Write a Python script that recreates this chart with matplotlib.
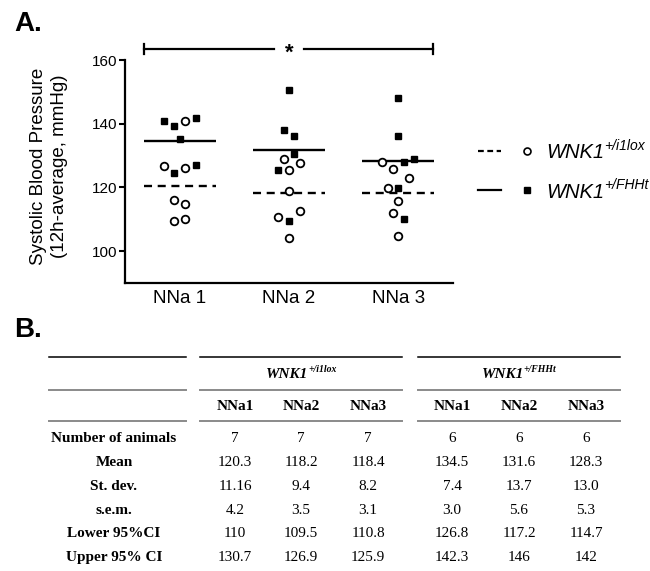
import matplotlib
matplotlib.use('Agg')
import matplotlib.pyplot as plt

groups = ['NNa 1', 'NNa 2', 'NNa 3']

# systolic BP (12h average, mmHg) of each animal
lox_bp = [[141.0, 126.6, 126.0, 116.0, 114.7, 109.5, 110.2],
          [128.8, 127.7, 125.4, 118.8, 112.6, 110.8, 104.2],
          [128.0, 125.9, 123.0, 119.9, 115.7, 112.0, 104.9]]
fhht_bp = [[141.0, 139.4, 141.8, 135.2, 127.0, 124.4],
           [150.6, 138.1, 136.0, 130.6, 125.4, 109.5],
           [148.0, 136.3, 128.0, 128.8, 119.7, 110.1]]
# column scatter slot of each dot (how far it was pushed sideways)
lox_slot = [[1, -3, 1, -1, 1, -1, 1],
            [-1, 2, 0, 0, 2, -2, 0],
            [-3, -1, 2, -2, 0, -1, 0]]
fhht_slot = [[-3, -1, 3, 0, 3, -1],
             [0, -1, 1, 1, -2, 0],
             [0, 0, 1, 3, 0, 1]]
lox_mean = [120.3, 118.2, 118.4]
fhht_mean = [134.5, 131.6, 128.3]

# table B
row_names = ['Number of animals', 'Mean', 'St. dev.', 's.e.m.',
             'Lower 95%CI', 'Upper 95% CI']
col_names = ['NNa1', 'NNa2', 'NNa3']
lox_table = [['7', '7', '7'],
             ['120.3', '118.2', '118.4'],
             ['11.16', '9.4', '8.2'],
             ['4.2', '3.5', '3.1'],
             ['110', '109.5', '110.8'],
             ['130.7', '126.9', '125.9']]
fhht_table = [['6', '6', '6'],
              ['134.5', '131.6', '128.3'],
              ['7.4', '13.7', '13.0'],
              ['3.0', '5.6', '5.3'],
              ['126.8', '117.2', '114.7'],
              ['142.3', '146', '142']]

SANS = 'Liberation Sans'
SERIF = 'Liberation Serif'
slot_w = 0.0485

fig = plt.figure(figsize=(6.5, 5.71), dpi=100)
W, H = 650, 571

# ---- panel A ----
ax = fig.add_axes([125 / W, 1 - 283 / H, 328 / W, 223 / H])
for i in range(3):
    xc = i + 1
    ax.hlines(fhht_mean[i], xc - 0.33, xc + 0.33, color='black', lw=1.7, zorder=2)
    ax.hlines(lox_mean[i], xc - 0.33, xc + 0.33, color='black', lw=1.7,
              linestyles=(0, (3.4, 2.4)), zorder=2)
    ax.plot([xc + s * slot_w for s in fhht_slot[i]], fhht_bp[i], 's',
            color='black', ms=5, zorder=3, clip_on=False)
    ax.plot([xc + s * slot_w for s in lox_slot[i]], lox_bp[i], 'o',
            mfc='white', mec='black', mew=1.3, ms=5.5, zorder=3, clip_on=False)

ax.set_xlim(0.5, 3.5)
ax.set_ylim(90, 160)
ax.set_yticks([100, 120, 140, 160])
ax.set_xticks([1, 2, 3])
ax.set_xticklabels(groups, fontsize=13.5, family=SANS)
for lab in ax.get_yticklabels():
    lab.set_family(SANS)
    lab.set_fontsize(11)
ax.tick_params(axis='x', length=0, pad=5)
ax.tick_params(axis='y', length=4.5, width=1.5, pad=1)
for side in ['top', 'right']:
    ax.spines[side].set_visible(False)
for side in ['left', 'bottom']:
    ax.spines[side].set_linewidth(1.6)

# significance bracket NNa1 vs NNa3
yb = 163.4
ax.plot([0.67, 1.86], [yb, yb], color='black', lw=1.6, clip_on=False)
ax.plot([2.14, 3.32], [yb, yb], color='black', lw=1.6, clip_on=False)
ax.plot([0.67, 0.67], [yb - 1.6, yb + 1.6], color='black', lw=1.6, clip_on=False)
ax.plot([3.32, 3.32], [yb - 1.6, yb + 1.6], color='black', lw=1.6, clip_on=False)
ax.text(2.0, yb - 1.2, '*', ha='center', va='center', fontsize=16,
        weight='bold', family=SANS)

# ---- overlay in pixel coordinates for labels, legend and table ----
ov = fig.add_axes([0, 0, 1, 1])
ov.set_xlim(0, W)
ov.set_ylim(H, 0)
ov.axis('off')
rend = fig.canvas.get_renderer()


def sup_text(x, y, base, sup, size, sup_size, family, weight, ha='left', rise=6):
    t1 = ov.text(x, y, base, fontsize=size, family=family, style='italic',
                 weight=weight, ha='left', va='center')
    t2 = ov.text(x, y - rise, sup, fontsize=sup_size, family=family,
                 style='italic', weight=weight, ha='left', va='center')
    w1 = t1.get_window_extent(rend).width
    w2 = t2.get_window_extent(rend).width
    x0 = x - (w1 + w2) / 2 if ha == 'center' else x
    t1.set_x(x0)
    t2.set_x(x0 + w1)


ov.text(14, 24, 'A.', fontsize=20, weight='bold', family=SANS, va='center')
ov.text(14, 330, 'B.', fontsize=20, weight='bold', family=SANS, va='center')
ov.text(49, 166, 'Systolic Blood Pressure\n(12h-average, mmHg)', rotation=90,
        ha='center', va='center', fontsize=13.5, family=SANS, linespacing=1.3)

# legend
leg_y = [151, 190]
ov.plot([478, 501], [leg_y[0]] * 2, color='black', lw=1.6, dashes=(2.6, 1.6))
ov.plot([527], [leg_y[0]], 'o', mfc='white', mec='black', mew=1.2, ms=5)
ov.plot([478, 501], [leg_y[1]] * 2, color='black', lw=1.6)
ov.plot([527], [leg_y[1]], 's', color='black', ms=4.5)
sup_text(546, leg_y[0] + 2, 'WNK1', '+/i1lox', 14.5, 10, SANS, 'normal', rise=7)
sup_text(546, leg_y[1] + 2, 'WNK1', '+/FHHt', 14.5, 10, SANS, 'normal', rise=7)

# ---- table B ----
blocks = [(49, 186), (200, 402), (418, 620)]
for x0, x1 in blocks:
    ov.plot([x0, x1], [357, 357], color='black', lw=1.1)
    ov.plot([x0, x1], [390, 390], color='#8a8a8a', lw=1.4)
    ov.plot([x0, x1], [421, 421], color='#8a8a8a', lw=1.4)

label_x = 114
lox_x = [235, 301, 368]
fhht_x = [452, 519, 586]
row_y = [439 + 23.7 * k for k in range(len(row_names))]

sup_text(301, 374, 'WNK1', '+/i1lox', 11, 7, SERIF, 'bold', ha='center', rise=5)
sup_text(519, 374, 'WNK1', '+/FHHt', 11, 7, SERIF, 'bold', ha='center', rise=5)
for xs in (lox_x, fhht_x):
    for x, name in zip(xs, col_names):
        ov.text(x, 406, name, fontsize=11, weight='bold', family=SERIF,
                ha='center', va='center')

for k, name in enumerate(row_names):
    ov.text(label_x, row_y[k], name, fontsize=11, weight='bold', family=SERIF,
            ha='center', va='center')
    for xs, tab in ((lox_x, lox_table), (fhht_x, fhht_table)):
        for x, val in zip(xs, tab[k]):
            ov.text(x, row_y[k], val, fontsize=11, family=SERIF,
                    ha='center', va='center')

fig.savefig('out.png', dpi=100)
